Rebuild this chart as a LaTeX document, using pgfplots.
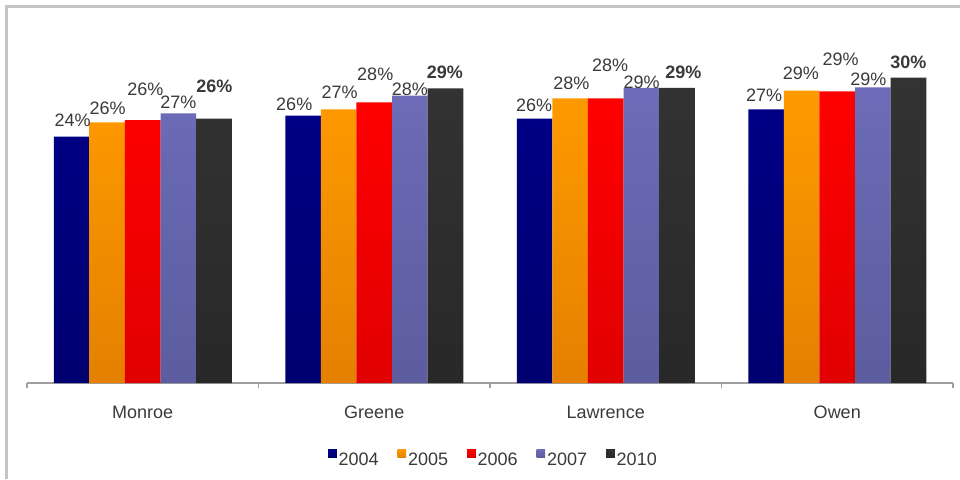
\documentclass[border=0pt]{standalone}
\usepackage{pgfplots}
\pgfplotsset{compat=1.18}
\usepackage{pgfplotstable}
\usepackage{fontspec}
\setmainfont{Liberation Sans}

\definecolor{cA}{HTML}{000085}
\definecolor{cAb}{HTML}{000070}
\definecolor{cB}{HTML}{FF9A00}
\definecolor{cBb}{HTML}{E58000}
\definecolor{cC}{HTML}{FF0000}
\definecolor{cCb}{HTML}{E00000}
\definecolor{cD}{HTML}{6C6CB8}
\definecolor{cDb}{HTML}{5C5C9F}
\definecolor{cE}{HTML}{333333}
\definecolor{cEb}{HTML}{282828}
\definecolor{txt}{HTML}{3A3A3A}
\definecolor{frame}{HTML}{C4C4C4}

% x = category index, y = value, lab = printed label, lx/ly = label offset (pt)
\pgfplotstableread{
x y lab lx ly
0 24.19 24 1.0 16.7
1 26.26 26 -8.8 11.5
2 25.96 26 -0.4 13.4
3 26.89 27 -1.9 14.3
}\tA
\pgfplotstableread{
x y lab lx ly
0 25.61 26 0.4 13.8
1 26.89 27 0.9 16.8
2 27.97 28 1.2 15.0
3 28.71 29 -0.8 17.7
}\tB
\pgfplotstableread{
x y lab lx ly
0 25.83 26 2.6 30.8
1 27.57 28 1.0 27.8
2 27.97 28 4.3 32.5
3 28.65 29 3.4 32.1
}\tC
\pgfplotstableread{
x y lab lx ly
0 26.49 27 0.0 10.8
1 28.22 28 0.0 6.5
2 28.98 29 0.3 5.8
3 29.05 29 -4.5 8.1
}\tD
\pgfplotstableread{
x y lab lx ly
0 25.96 26 0.4 32.2
1 28.95 29 -0.5 15.5
2 28.98 29 6.4 15.5
3 29.99 30 -0.1 15.2
}\tE

\begin{document}
\begin{tikzpicture}
\path[use as bounding box] (0pt,0pt) rectangle (960pt,479pt);
\draw[frame, line width=3pt] (6.7pt,0pt) -- (6.7pt,472.3pt) -- (960pt,472.3pt);
\begin{axis}[
  at={(27pt,96pt)}, anchor=south west,
  scale only axis, width=926pt, height=356.3pt,
  ybar=0pt, bar width=35.6pt,
  xmin=-0.5, xmax=3.5, ymin=0, ymax=35,
  enlargelimits=false,
  axis y line=none,
  axis x line*=bottom,
  x axis line style={-, draw=gray!75, line width=1.3pt},
  xtick={0,1,2,3},
  xticklabels={Monroe,Greene,Lawrence,Owen},
  minor xtick={-0.5,0.5,1.5,2.5,3.5},
  xtick align=outside,
  major tick length=0pt,
  minor tick length=5pt,
  minor tick style={draw=gray!75, line width=1.3pt},
  xticklabel style={font=\fontsize{18}{21}\selectfont, text=txt, anchor=center, yshift=-29.7pt},
  ytick=\empty,
  point meta=explicit symbolic,
  nodes near coords={\pgfplotspointmeta\%},
  visualization depends on={\thisrow{lx} \as \lx},
  visualization depends on={\thisrow{ly} \as \ly},
  every node near coord/.append style={font=\fontsize{18}{21}\selectfont, text=txt, anchor=center, xshift=\lx pt, yshift=\ly pt},
  legend columns=5,
  legend style={at={(0.5037,-0.2133)}, anchor=center, draw=none, fill=none,
    font=\fontsize{18}{21}\selectfont, text=txt,
    nodes={inner sep=2pt},
    /tikz/every even column/.append style={column sep=17pt}},
  legend image code/.code={\fill[#1, draw=none] (-2.5pt,2pt) rectangle (6pt,10.5pt);},
]
\addplot[draw=none, top color=cA, middle color=cA, bottom color=cAb] table[x=x, y=y, meta=lab] {\tA};
\addplot[draw=none, top color=cB, middle color=cB, bottom color=cBb] table[x=x, y=y, meta=lab] {\tB};
\addplot[draw=none, top color=cC, middle color=cC, bottom color=cCb] table[x=x, y=y, meta=lab] {\tC};
\addplot[draw=none, top color=cD, middle color=cD, bottom color=cDb] table[x=x, y=y, meta=lab] {\tD};
\addplot[draw=none, top color=cE, middle color=cE, bottom color=cEb,
  every node near coord/.append style={font=\fontsize{18}{21}\selectfont\bfseries}] table[x=x, y=y, meta=lab] {\tE};
\legend{2004,2005,2006,2007,2010}
\end{axis}
\end{tikzpicture}
\end{document}
